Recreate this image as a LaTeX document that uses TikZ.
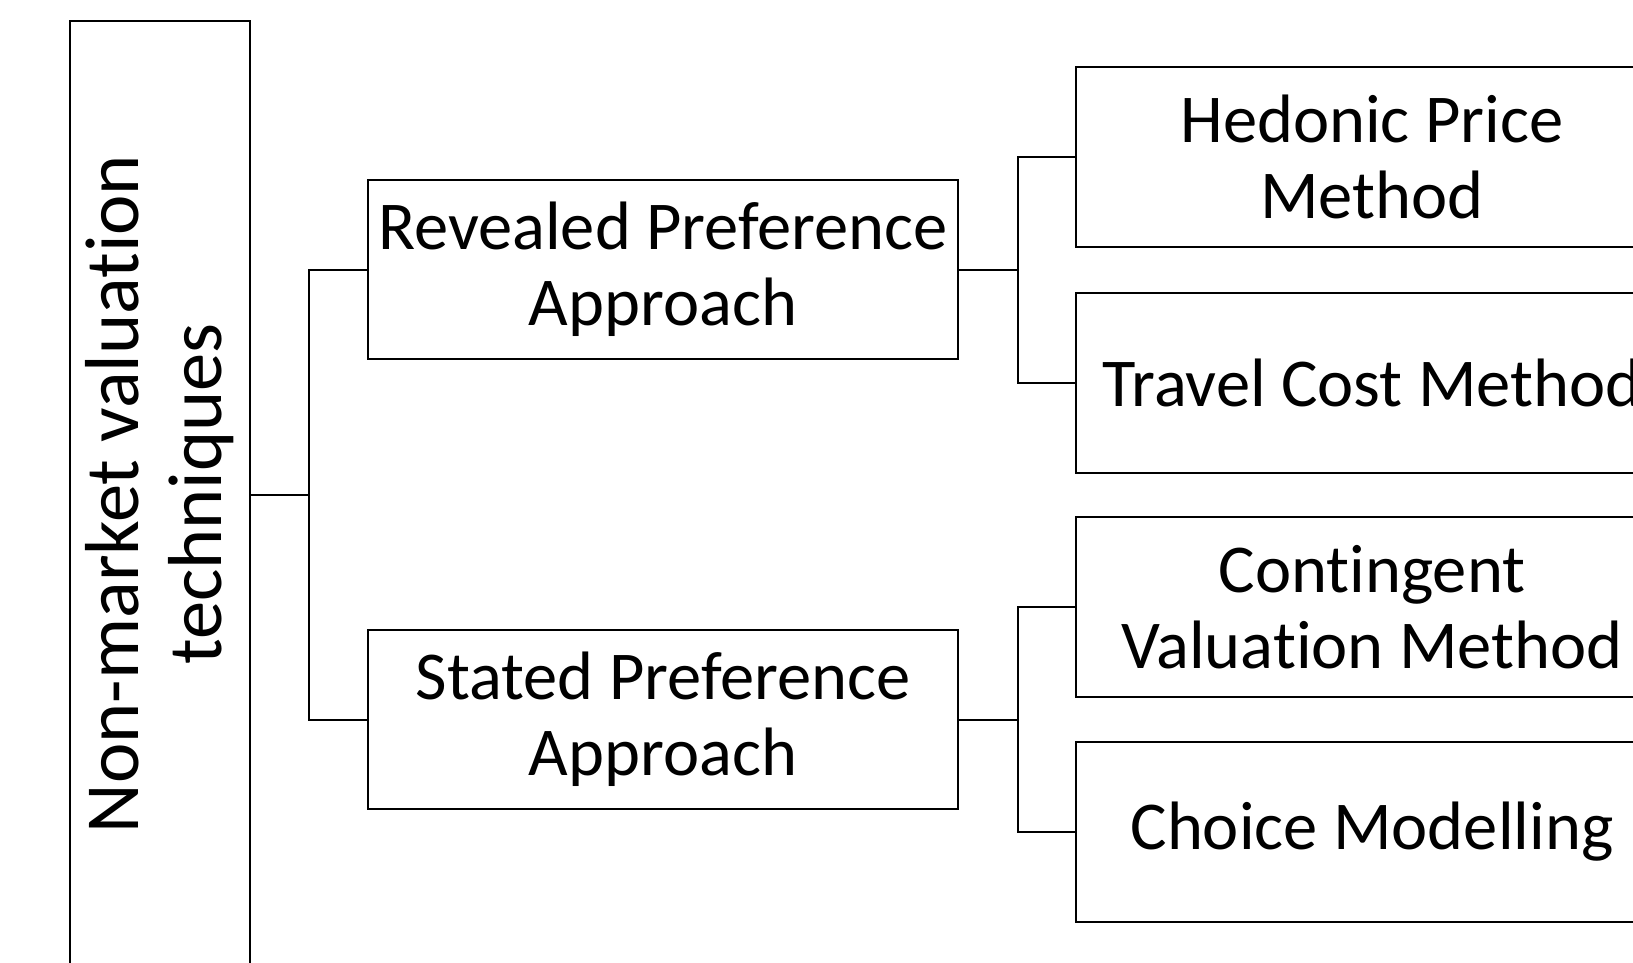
\documentclass[tikz,border=0pt]{standalone}
\usepackage{fontspec}
\setmainfont[Ligatures=NoCommon]{Carlito}
\begin{document}
\begin{tikzpicture}[x=1pt,y=-1pt,
  box/.style={draw, line width=2pt, inner sep=0pt, align=center, font=\fontsize{68.5}{76}\selectfont},
  link/.style={draw, line width=2pt}]
\useasboundingbox (0,0) rectangle (1633,963);
\clip (0,0) rectangle (1633,963);
\node[box, minimum width=180pt, minimum height=948pt] (root) at (160,495) {};
\node[rotate=90, align=center, font=\fontsize{76.5}{83}\selectfont] (roottext) at (160,494) {Non-market valuation\\techniques};
\node[box, minimum width=590pt, minimum height=179pt] (rev) at (663,269.5) {Revealed Preference\\Approach};
\node[box, minimum width=590pt, minimum height=179pt] (sta) at (663,719.5) {Stated Preference\\Approach};
\node[box, minimum width=592pt, minimum height=180pt] (hed) at (1372,157) {Hedonic Price\\Method};
\node[box, minimum width=592pt, minimum height=180pt] (tra) at (1372,382.5) {Travel Cost Method};
\node[box, minimum width=592pt, minimum height=180pt] (con) at (1372,607) {Contingent\\Valuation Method};
\node[box, minimum width=592pt, minimum height=180pt] (cho) at (1372,832) {Choice Modelling};
\draw[link] (root.east) -- ++(58,0) coordinate (j1);
\draw[link] (j1) |- (rev.west);
\draw[link] (j1) |- (sta.west);
\draw[link] (rev.east) -- ++(58.5,0) coordinate (j2);
\draw[link] (j2) |- (hed.west);
\draw[link] (j2) |- (tra.west);
\draw[link] (sta.east) -- ++(58.5,0) coordinate (j3);
\draw[link] (j3) |- (con.west);
\draw[link] (j3) |- (cho.west);
\end{tikzpicture}
\end{document}
